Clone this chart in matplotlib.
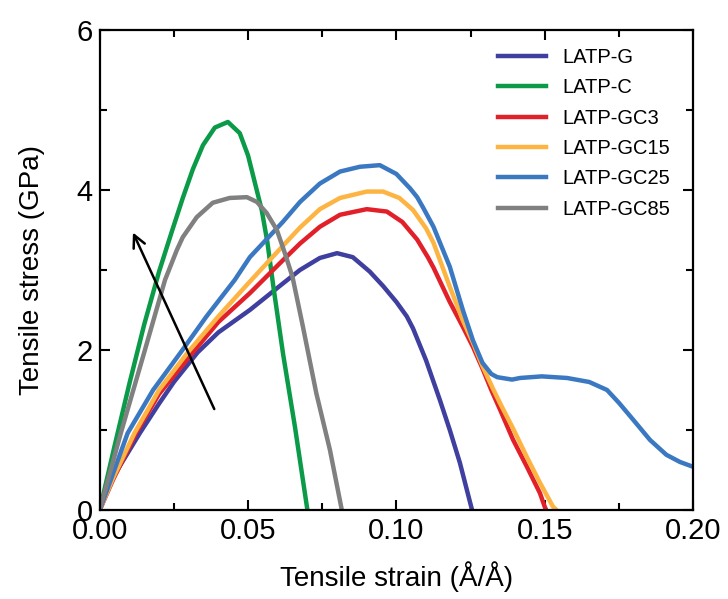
import matplotlib
matplotlib.use('Agg')
import matplotlib.pyplot as plt
from matplotlib.ticker import MultipleLocator

plt.rcParams['font.family'] = ['Liberation Sans', 'DejaVu Sans']

# strain (A/A) and stress (GPa)
g_x = [0, 0.004, 0.0135, 0.020, 0.025, 0.033, 0.040, 0.0506, 0.0617, 0.0675, 0.0742,
       0.080, 0.0853, 0.091, 0.0955, 0.100, 0.1035, 0.1056, 0.110, 0.1147, 0.118,
       0.1214, 0.1255]
g_y = [0, 0.38, 0.96, 1.33, 1.6, 1.97, 2.22, 2.5, 2.83, 3.0, 3.15,
       3.21, 3.16, 2.98, 2.8, 2.6, 2.42, 2.27, 1.87, 1.37, 1.0,
       0.59, 0]

c_x = [0, 0.005, 0.010, 0.015, 0.020, 0.0243, 0.028, 0.0314, 0.0348, 0.0388, 0.0432,
       0.0472, 0.050, 0.0523, 0.0546, 0.0565, 0.0585, 0.0618, 0.0658, 0.070]
c_y = [0, 0.8, 1.58, 2.32, 2.98, 3.48, 3.9, 4.26, 4.56, 4.78, 4.85,
       4.71, 4.43, 4.09, 3.75, 3.35, 2.8, 1.95, 1.04, 0]

gc3_x = [0, 0.0045, 0.0122, 0.020, 0.0314, 0.040, 0.0506, 0.0617, 0.0675, 0.0742, 0.081,
         0.090, 0.0968, 0.102, 0.107, 0.1106, 0.1125, 0.118, 0.1224, 0.1258, 0.129,
         0.132, 0.135, 0.1393, 0.144, 0.1484, 0.150, 0.1505]
gc3_y = [0, 0.38, 0.96, 1.45, 1.97, 2.35, 2.71, 3.12, 3.33, 3.54, 3.69,
         3.76, 3.73, 3.6, 3.38, 3.16, 3.03, 2.6, 2.29, 2.04, 1.77,
         1.5, 1.25, 0.88, 0.54, 0.21, 0.04, 0]

gc15_x = [0, 0.0045, 0.0117, 0.020, 0.0297, 0.040, 0.050, 0.0617, 0.0675, 0.0742, 0.081,
          0.090, 0.0955, 0.101, 0.1056, 0.110, 0.1125, 0.118, 0.1224, 0.1258, 0.129,
          0.1325, 0.135, 0.1393, 0.144, 0.1484, 0.1528, 0.154]
gc15_y = [0, 0.40, 0.96, 1.5, 1.97, 2.42, 2.83, 3.3, 3.53, 3.76, 3.9,
          3.98, 3.98, 3.9, 3.75, 3.52, 3.34, 2.79, 2.37, 2.09, 1.8,
          1.52, 1.33, 1.02, 0.66, 0.34, 0.04, 0]

gc25_x = [0, 0.0037, 0.0094, 0.018, 0.0273, 0.036, 0.0455, 0.0506, 0.0617, 0.0675, 0.0742,
          0.081, 0.0877, 0.0944, 0.100, 0.1046, 0.107, 0.109, 0.1125, 0.118, 0.1224,
          0.1258, 0.129, 0.132, 0.134, 0.139, 0.1417, 0.149, 0.1575, 0.165, 0.171,
          0.175, 0.180, 0.1855, 0.191, 0.1956, 0.2]
gc25_y = [0, 0.375, 0.96, 1.5, 1.97, 2.42, 2.875, 3.16, 3.6, 3.85, 4.08,
          4.23, 4.29, 4.31, 4.2, 4.02, 3.91, 3.78, 3.54, 3.04, 2.5,
          2.12, 1.84, 1.70, 1.66, 1.63, 1.65, 1.67, 1.65, 1.6, 1.5,
          1.34, 1.12, 0.875, 0.69, 0.6, 0.54]

gc85_x = [0, 0.0071, 0.015, 0.022, 0.026, 0.028, 0.0327, 0.0381, 0.0438, 0.0496, 0.053,
          0.0563, 0.0597, 0.0625, 0.065, 0.0685, 0.073, 0.0776, 0.0816]
gc85_y = [0, 0.96, 1.97, 2.875, 3.25, 3.41, 3.66, 3.84, 3.9, 3.91, 3.85,
          3.71, 3.5, 3.2, 2.91, 2.29, 1.46, 0.75, 0]

labels = ['LATP-G', 'LATP-C', 'LATP-GC3', 'LATP-GC15', 'LATP-GC25', 'LATP-GC85']
colors = ['#3F3F9F', '#0A9A48', '#E2202A', '#FDB443', '#3A78C2', '#808080']
series = [(g_x, g_y), (c_x, c_y), (gc3_x, gc3_y), (gc15_x, gc15_y),
          (gc25_x, gc25_y), (gc85_x, gc85_y)]

fig = plt.figure(figsize=(7.28, 5.99), dpi=100)
ax = fig.add_axes([0.137, 0.1486, 0.815, 0.8014])

for (x, y), lab, col in zip(series, labels, colors):
    ax.plot(x, y, color=col, lw=3.2, label=lab, solid_joinstyle='round')

# trend arrow
ax.annotate('', xy=(0.0108, 3.5), xytext=(0.039, 1.23),
            arrowprops=dict(arrowstyle='->', lw=1.8, color='black', mutation_scale=22))

ax.set_xlim(0, 0.2)
ax.set_ylim(0, 6)
ax.xaxis.set_major_locator(MultipleLocator(0.05))
ax.xaxis.set_minor_locator(MultipleLocator(0.025))
ax.yaxis.set_major_locator(MultipleLocator(2))
ax.yaxis.set_minor_locator(MultipleLocator(1))
ax.set_xticks([0, 0.05, 0.10, 0.15, 0.20])
ax.set_xticklabels(['0.00', '0.05', '0.10', '0.15', '0.20'])
ax.tick_params(which='both', direction='in', top=True, right=True, width=1.5)
ax.tick_params(which='major', length=7, labelsize=21, pad=5)
ax.tick_params(which='minor', length=5)
for s in ax.spines.values():
    s.set_linewidth(1.6)

ax.set_xlabel('Tensile strain (Å/Å)', fontsize=20, labelpad=12)
ax.set_ylabel('Tensile stress (GPa)', fontsize=20, labelpad=23)

ax.legend(loc='upper left', bbox_to_anchor=(0.672, 0.962), frameon=False, fontsize=14.5,
          handlelength=2.35, handletextpad=0.8, labelspacing=0.56, borderpad=0, borderaxespad=0)

fig.savefig('out.png', dpi=100)
